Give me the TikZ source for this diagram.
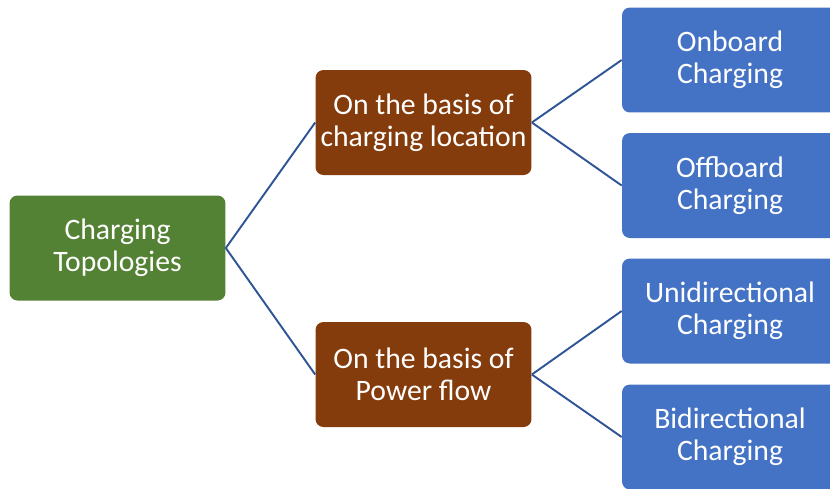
\documentclass[tikz,border=0pt]{standalone}
\usepackage{fontspec}
\setmainfont{Carlito}
\definecolor{rootgreen}{HTML}{548235}
\definecolor{basisbrown}{HTML}{843C0C}
\definecolor{leafblue}{HTML}{4472C4}
\definecolor{linkblue}{HTML}{2F5597}
\tikzset{
  box/.style={rounded corners=4.5pt, minimum width=4.32cm, minimum height=2.1cm,
    inner sep=0pt, text=white, align=center, font=\fontsize{16.9}{18.4}\selectfont},
  link/.style={draw=linkblue, line width=1.1pt}
}
\begin{document}
\begin{tikzpicture}[x=0.02cm,y=-0.02cm]
\useasboundingbox (0,0) rectangle (830,488);
\clip (0,0) rectangle (830,488);
% Root of the tree
\node[box, fill=rootgreen] (root) at (117.5,248) {Charging\\Topologies};
% The two bases
\node[box, fill=basisbrown] (loc) at (423.5,122.5) {On the basis of\\charging location};
\node[box, fill=basisbrown] (flow) at (423.5,374.5) {On the basis of\\Power flow};
% Leaves, cut off by the right edge
\node[box, fill=leafblue] (onb) at (730,60) {Onboard\\Charging};
\node[box, fill=leafblue] (offb) at (730,185.5) {Offboard\\Charging};
\node[box, fill=leafblue] (unid) at (730,311) {Unidirectional\\Charging};
\node[box, fill=leafblue] (bid) at (730,437) {Bidirectional\\Charging};
% Connectors
\draw[link] (root.east) -- (loc.west);
\draw[link] (root.east) -- (flow.west);
\draw[link] (loc.east) -- (onb.west);
\draw[link] (loc.east) -- (offb.west);
\draw[link] (flow.east) -- (unid.west);
\draw[link] (flow.east) -- (bid.west);
\end{tikzpicture}
\end{document}
